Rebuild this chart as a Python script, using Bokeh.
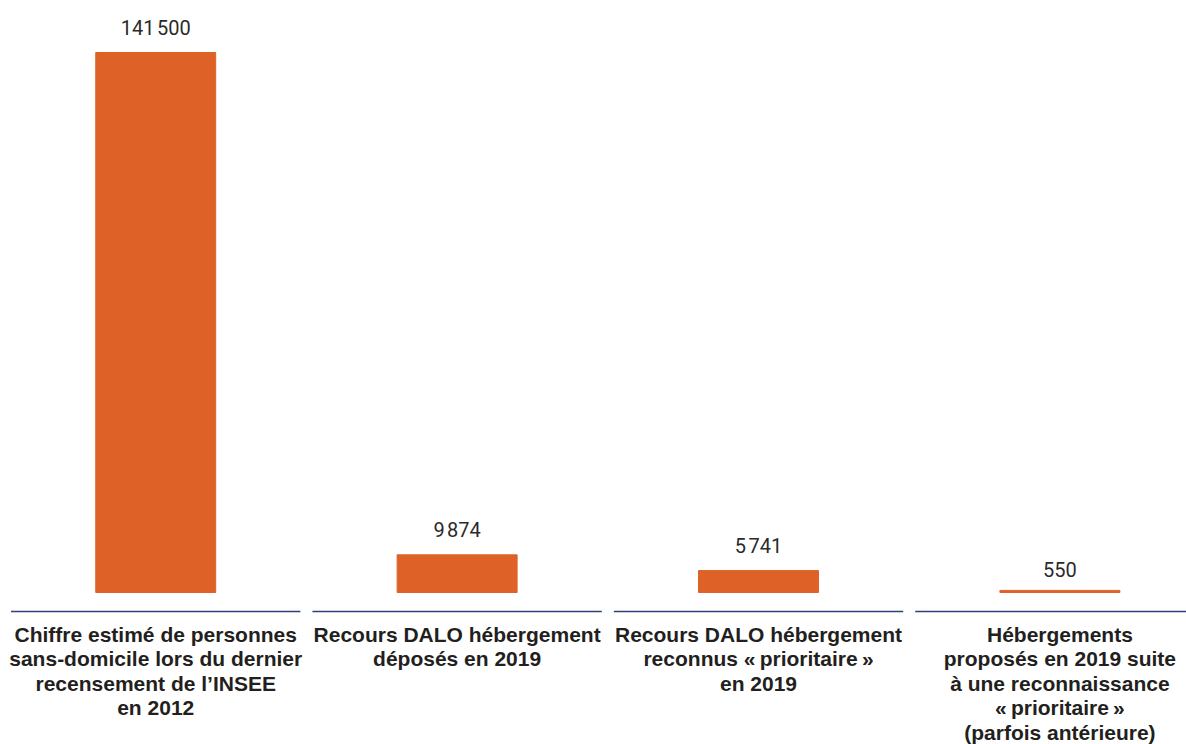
from bokeh.plotting import figure
from bokeh.models import Range1d, ColumnDataSource
from bokeh.embed import file_html
from bokeh.resources import INLINE
from bokeh.core.properties import value

# ---- data ----
categories = [
    "Chiffre estimé de personnes\nsans-domicile lors du dernier\nrecensement de l\u2019INSEE\nen 2012",
    "Recours DALO hébergement\ndéposés en 2019",
    "Recours DALO hébergement\nreconnus \u00ab\u202fprioritaire\u202f\u00bb\nen 2019",
    "Hébergements\nproposés en 2019 suite\nà une reconnaissance\n\u00ab\u202fprioritaire\u202f\u00bb\n(parfois antérieure)",
]
values = [141500, 9874, 5741, 550]
value_labels = ["141\u202f500", "9\u202f874", "5\u202f741", "550"]

# ---- layout ----
W, H = 1186, 744
px_per_unit = 540 / 141500
base_px = 592
y_bottom = -(H - base_px) / px_per_unit
y_top = base_px / px_per_unit
sep_y = -19 / px_per_unit

x = list(range(len(values)))
src = ColumnDataSource(dict(
    x=x, top=values, lab=value_labels, cat=categories,
    x0=[i - 0.48 for i in x], x1=[i + 0.48 for i in x],
    sep=[sep_y] * len(x),
))

p = figure(width=W, height=H, x_range=Range1d(-0.515, 3.42),
           y_range=Range1d(y_bottom, y_top), output_backend="svg",
           toolbar_location=None, min_border=0,
           x_axis_location=None, y_axis_location=None)
p.grid.visible = False
p.outline_line_color = None
p.background_fill_color = "white"

p.vbar(x="x", top="top", width=0.398, color="#DE6228", source=src)
p.segment(x0="x0", x1="x1", y0="sep", y1="sep", line_color="#2E3F80",
          line_width=1.5, source=src)

p.text(x="x", y="top", text="lab", source=src, text_align="center",
       text_baseline="bottom", y_offset=-13, text_font=value("Roboto"),
       text_font_size="20px", text_color="#2A2A2A")

p.text(x="x", y="sep", text="cat", source=src, text_align="center",
       text_baseline="top", y_offset=11, text_font=value("Liberation Sans"),
       text_font_style="bold", text_font_size="21px", text_line_height=1.07,
       text_color="#231F20")

open("out.html", "w").write(file_html(p, INLINE))
